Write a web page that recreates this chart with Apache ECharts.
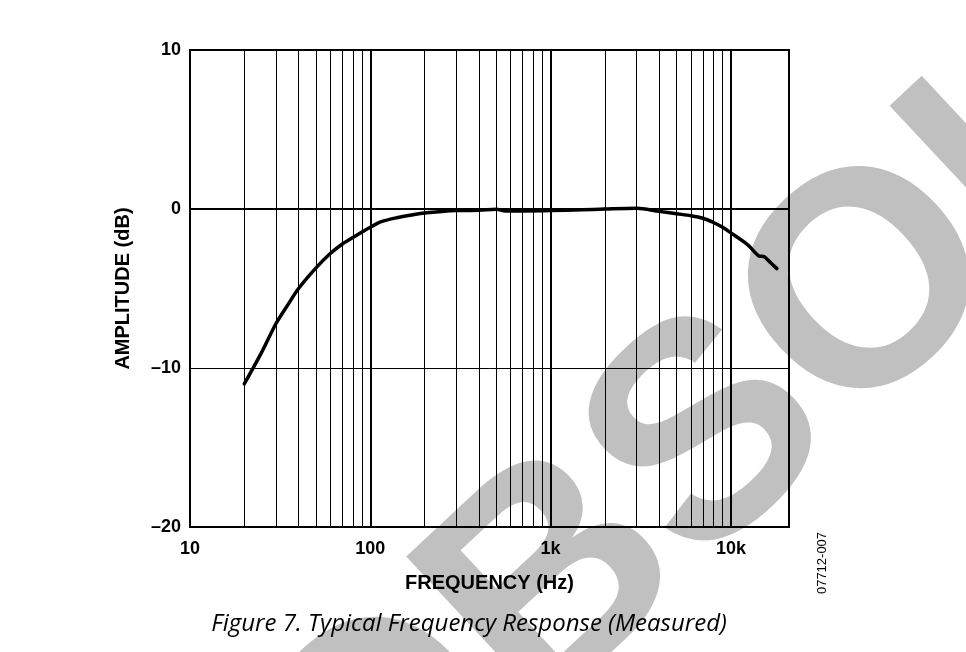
<!DOCTYPE html>
<html>
<head>
<meta charset="utf-8">
<script src="https://cdn.jsdelivr.net/npm/echarts@6/dist/echarts.min.js"></script>
<style>
html,body{margin:0;padding:0;background:#fff;}
#chart{width:966px;height:652px;}
</style>
</head>
<body>
<div id="chart"></div>
<script>
// Frequency (Hz) and amplitude (dB)
var freqHz = [20, 25, 30, 35, 40, 50, 60, 70, 80, 90, 100, 115, 140, 175, 200, 250, 300, 400, 500, 560, 700, 1000, 1500, 2000, 3000, 4000, 5000, 6000, 7000, 8000, 9000, 10000, 12400, 14300, 15300, 16000, 18000];
var amplitudeDb = [-11.0, -9.0, -7.2, -6.0, -5.0, -3.7, -2.8, -2.2, -1.8, -1.45, -1.15, -0.8, -0.55, -0.35, -0.25, -0.15, -0.1, -0.08, -0.02, -0.12, -0.12, -0.1, -0.05, 0.0, 0.05, -0.15, -0.3, -0.42, -0.58, -0.85, -1.15, -1.5, -2.25, -2.95, -3.0, -3.2, -3.75];
// minor (1-2-...-9) grid lines of the log frequency axis
var minorGridHz = [20, 30, 40, 50, 60, 70, 80, 90, 200, 300, 400, 500, 600, 700, 800, 900, 2000, 3000, 4000, 5000, 6000, 7000, 8000, 9000];
var xTickLabels = {10: '10', 100: '100', 1000: '1k', 10000: '10k'};
var yTicks = [-20, -10, 0, 10];

var chart = echarts.init(document.getElementById('chart'));
var lineData = freqHz.map(function (f, i) { return [f, amplitudeDb[i]]; });

var option = {
  animation: false,
  backgroundColor: '#fff',
  grid: {left: 190, top: 50, width: 599, height: 477, show: true, borderColor: '#000', borderWidth: 2, backgroundColor: 'transparent', z: 2},
  xAxis: {
    type: 'log', logBase: 10, min: 10, max: 21000,
    name: 'FREQUENCY (Hz)', nameLocation: 'middle', nameGap: 46,
    nameTextStyle: {fontFamily: 'Liberation Sans', fontWeight: 'bold', fontSize: 20, color: '#000'},
    axisLine: {show: true, lineStyle: {color: '#000', width: 2}},
    axisTick: {show: false},
    axisLabel: {margin: 13, color: '#000', fontFamily: 'Liberation Sans', fontWeight: 'bold', fontSize: 18, showMaxLabel: false,
      formatter: function (v) { return xTickLabels[Math.round(v)] || ''; }},
    splitLine: {show: true, lineStyle: {color: '#000', width: 2}},
    minorTick: {show: false}, minorSplitLine: {show: false}
  },
  yAxis: {
    type: 'value', min: yTicks[0], max: yTicks[yTicks.length - 1], interval: 10,
    name: 'AMPLITUDE (dB)', nameLocation: 'middle', nameGap: 57, nameRotate: 90,
    nameTextStyle: {fontFamily: 'Liberation Sans', fontWeight: 'bold', fontSize: 20, color: '#000'},
    axisLine: {show: true, lineStyle: {color: '#000', width: 2}},
    axisTick: {show: false},
    axisLabel: {margin: 9, padding: [5, 0, 0, 0], color: '#000', fontFamily: 'Liberation Sans', fontWeight: 'bold', fontSize: 18,
      formatter: function (v) { return v < 0 ? '\u2013' + Math.abs(v) : String(v); }},
    splitLine: {show: true, lineStyle: {color: '#000', width: 1}}
  },
  graphic: [
    {type: 'text', x: 917, y: 252, rotation: 43 * Math.PI / 180, z: -100, silent: true,
      style: {text: 'OBSOLETE', font: 'bold 305px "Liberation Sans"', fill: '#c0c0c0', align: 'center', verticalAlign: 'middle'}},
    {type: 'text', x: 469, y: 624, z: 10, silent: true,
      style: {text: 'Figure 7. Typical Frequency Response (Measured)', font: 'italic 24px "Open Sans"', fill: '#000', align: 'center', verticalAlign: 'middle'}},
    {type: 'text', x: 822, y: 563, rotation: Math.PI / 2, z: 10, silent: true,
      style: {text: '07712-007', font: '13px "Liberation Sans"', fill: '#000', align: 'center', verticalAlign: 'middle'}}
  ],
  series: [{
    type: 'line', data: lineData, smooth: 0.3, showSymbol: false, symbol: 'none', z: 5,
    lineStyle: {color: '#000', width: 3.5, cap: 'round', join: 'round'},
    markLine: {
      silent: true, symbol: 'none', label: {show: false}, animation: false,
      lineStyle: {color: '#000', width: 1, type: 'solid'},
      data: minorGridHz.map(function (f) { return {xAxis: f}; })
    }
  }]
};
chart.setOption(option);
</script>
</body>
</html>
